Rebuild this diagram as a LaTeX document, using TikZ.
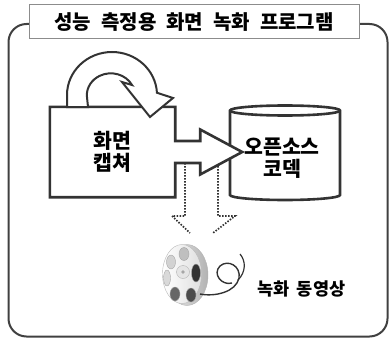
\documentclass[tikz,border=0pt]{standalone}
\usepackage{fontspec}
\setmainfont{Noto Sans CJK KR}
\usetikzlibrary{
  positioning,
  calc,
  backgrounds
}
\definecolor{recDark}{HTML}{333333}
\definecolor{recFrame}{HTML}{404040}
\definecolor{recGrey}{HTML}{8C8C8C}

\begin{document}
\begin{tikzpicture}[
  x=1pt, y=1pt,
  every node/.style={font=\bfseries, align=center, inner sep=0pt},
  frame/.style={draw=recFrame, line width=2pt, rounded corners=18pt},
  titlebox/.style={
    rectangle, draw=recGrey, fill=white, line width=1pt,
    minimum width=330pt, minimum height=34pt,
    font=\bfseries\fontsize{20}{22}\selectfont,
    execute at begin node={\spaceskip=0.5em\relax}
  },
  bigtext/.style={font=\bfseries\fontsize{20.5}{22}\selectfont},
  outline/.style={draw=recDark, fill=white, line width=2.6pt, line join=miter},
  loopline/.style={draw=recDark, fill=white, line width=2pt, line join=miter},
  dotline/.style={draw=recDark, line width=1.7pt, dash pattern=on 1.5pt off 1.5pt},
  hole/.style={draw=gray!70, fill=#1}
]
 \useasboundingbox (0,0) rectangle (390,338);

 % Heading and blocks (text on the main layer)
 \node[titlebox] (title) at (194,316) {성능 측정용 화면 녹화 프로그램};
 \node[bigtext, minimum width=125pt, minimum height=90pt] (capture) at (112.5,186) {화면\\캡쳐};
 \node[bigtext] (codec) at (282,180) {오픈소스\\코덱};
 \coordinate (tip) at ($(capture.east)+(67,0)$);
 \coordinate (reel) at (182,64);
 \node[font=\bfseries\fontsize{17.5}{19}\selectfont,
   execute at begin node={\spaceskip=0.4em\relax}] (video) at (301.5,49) {녹화 동영상};

 \begin{scope}[on background layer]
 % Outer frame
 \draw[frame] (8.5,1.5) rectangle (387.5,314);

 % Codec cylinder
 \coordinate (ctop) at (285,227.5);
 \coordinate (cbot) at (285,143);
 \draw[outline] ($(ctop)+(-55,0)$) -- ($(cbot)+(-55,0)$)
   arc (180:360:55 and 5) -- ($(ctop)+(55,0)$)
   arc (0:180:55 and 5) -- cycle;
 \draw[outline, fill=none] ($(ctop)+(-55,0)$) arc (180:360:55 and 5);

 % Output arrow (dotted), under the capture arrow
 \draw[dotline] (185,175) -- (185,122) -- (172,122) -- (190,105);
 \draw[dotline] (218,172) -- (218,122) -- (235,122) -- (213,105);

 % Capture box merged with the arrow into the codec
 \draw[outline] (capture.north west) -- (capture.north east)
   -- ($(capture.east)+(0,11)$) -- ($(capture.east)+(25,11)$)
   -- ($(capture.east)+(25,22.5)$) -- (tip)
   -- ($(capture.east)+(25,-22.5)$) -- ($(capture.east)+(25,-11)$)
   -- ($(capture.east)+(0,-11)$) -- (capture.south east)
   -- (capture.south west) -- cycle;

 % Loop arrow on top of the capture box
 \draw[loopline] (67,231) -- (67,243) arc (180:3:45 and 43)
   -- (173,240) -- (150,221) -- (122,256) -- (132,253)
   arc (28:180:24 and 22) -- (88,231) -- cycle;

 % Film reel
 \draw[gray!60, left color=gray!15, right color=gray!60] ($(reel)+(5,-1)$) ellipse (21 and 30.5);
 \draw[gray!55, left color=white, right color=gray!25] (reel) ellipse (19.5 and 29.5);
 \draw[hole=gray!50] (184,84) ellipse (5 and 6.5);
 \draw[hole=gray!35] (171,76) ellipse (4.5 and 7);
 \draw[hole=gray!30] (167,60) ellipse (3.5 and 8);
 \draw[hole=black!60] (175,44) ellipse (5 and 7);
 \draw[hole=black!70] (191,43) ellipse (5 and 7);
 \draw[hole=black!80] (196,65) ellipse (4.5 and 9);
 \draw[gray!60, fill=gray!20] (183,66) circle (6.5);
 \fill[gray!70] (183,66) circle (1.8);

 % Film strip leaving the reel
 \draw[recDark, line width=1.4pt] (200,44) .. controls (215,41) and (236,46) .. (239,60)
   .. controls (241,72) and (228,79) .. (220,72)
   .. controls (212,64) and (222,52) .. (232,55);
 \draw[recDark, line width=1.2pt] (238,58) .. controls (246,66) and (246,77) .. (240,84);
 \end{scope}
\end{tikzpicture}
\end{document}
